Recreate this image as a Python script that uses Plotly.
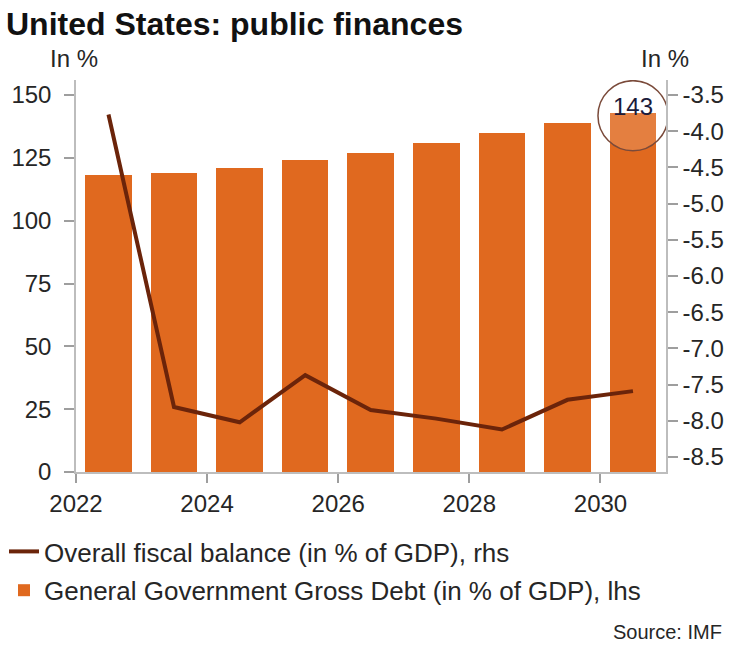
import plotly.graph_objects as go

years = [2022, 2023, 2024, 2025, 2026, 2027, 2028, 2029, 2030]
debt = [118, 119, 121, 124, 127, 131, 135, 139, 143]
balance = [-3.77, -7.81, -8.02, -7.37, -7.85, -7.97, -8.12, -7.71, -7.59]
x_ticks = [2022, 2024, 2026, 2028, 2030]
rhs_ticks = [-3.5, -4.0, -4.5, -5.0, -5.5, -6.0, -6.5, -7.0, -7.5, -8.0, -8.5]

x_dates = [f"{y}-07-01" for y in years]
YEAR_MS = 365.25 * 24 * 3600 * 1000

BAR = "#E0691F"
LINE = "#6B240A"
TXT = "#262626"
AX = "#BDBDBD"
FONT = "Liberation Sans, Arial, sans-serif"

W, H = 734, 646
ML, MR, MT, MB = 76, 68, 80, 174
PW, PH = W - ML - MR, H - MT - MB


def px_x(p):
    return (p - ML) / PW


def px_y(p):
    return (H - MB - p) / PH


fig = go.Figure()
fig.add_trace(go.Scatter(
    x=x_dates, y=balance, yaxis="y2", mode="lines",
    line=dict(color=LINE, width=4),
    name="Overall fiscal balance (in % of GDP), rhs",
    legendgroup="a",
))
fig.add_trace(go.Bar(
    x=x_dates, y=debt, yaxis="y", marker=dict(color=BAR, line=dict(width=0)),
    width=[0.71 * YEAR_MS] * len(years),
    name="General Government Gross Debt (in % of GDP), lhs",
    legendgroup="b",
))

fig.update_layout(
    width=W, height=H,
    margin=dict(l=ML, r=MR, t=MT, b=MB, autoexpand=False),
    paper_bgcolor="white", plot_bgcolor="white",
    font=dict(family=FONT, color=TXT, size=24),
    showlegend=True,
    legend=dict(
        orientation="v",
        x=px_x(4), y=px_y(528), xanchor="left", yanchor="top",
        font=dict(size=26, color=TXT), tracegroupgap=2,
        bgcolor="rgba(0,0,0,0)",
    ),
    title=dict(
        text="<b>United States: public finances</b>",
        xref="container", yref="container",
        x=6 / W, y=1 - 24 / H, xanchor="left", yanchor="middle",
        font=dict(size=32, color="#111111", family=FONT),
    ),
    xaxis=dict(
        type="date",
        range=["2022-01-01", "2031-01-01"],
        tickvals=[f"{y}-01-01" for y in x_ticks],
        ticktext=[str(y) for y in x_ticks],
        ticks="outside", ticklen=9, tickcolor="#9E9E9E", tickwidth=1.5,
        showline=True, linecolor=AX, linewidth=1.5,
        showgrid=False, zeroline=False,
        tickfont=dict(size=24, color=TXT),
    ),
    yaxis=dict(
        range=[0, 156], dtick=25, tick0=0,
        ticks="outside", ticklen=10, tickcolor="#9E9E9E", tickwidth=1.5,
        showline=True, linecolor=AX, linewidth=1.5,
        showgrid=False, zeroline=False,
        tickfont=dict(size=24, color=TXT),
        ticklabelstandoff=8,
    ),
    yaxis2=dict(
        overlaying="y", side="right",
        range=[-8.707, -3.293],
        tickvals=rhs_ticks, ticktext=[f"{v:.1f}" for v in rhs_ticks],
        ticks="outside", ticklen=10, tickcolor="#9E9E9E", tickwidth=1.5,
        showline=True, linecolor=AX, linewidth=1.5,
        showgrid=False, zeroline=False,
        tickfont=dict(size=24, color=TXT),
    ),
    bargap=0,
)

# circle highlight around the last debt value
fig.add_shape(
    type="circle", xref="x", yref="y",
    xsizemode="pixel", ysizemode="pixel",
    xanchor=x_dates[-1], yanchor=debt[-1],
    x0=-35, x1=35, y0=-38, y1=32,
    line=dict(color="#7A4A3A", width=1.5),
    fillcolor="rgba(255,255,255,0.15)",
    layer="above",
)
fig.add_annotation(
    x=x_dates[-1], y=debt[-1], xref="x", yref="y",
    text=str(debt[-1]), showarrow=False,
    yshift=6, font=dict(size=24, color="#1B1B3A"),
)

fig.add_annotation(text="In %", xref="paper", yref="paper",
                   x=px_x(74), y=px_y(58), xanchor="center", yanchor="middle",
                   showarrow=False, font=dict(size=24, color=TXT))
fig.add_annotation(text="In %", xref="paper", yref="paper",
                   x=px_x(665), y=px_y(58), xanchor="center", yanchor="middle",
                   showarrow=False, font=dict(size=24, color=TXT))
fig.add_annotation(text="Source: IMF", xref="paper", yref="paper",
                   x=px_x(724), y=px_y(632), xanchor="right", yanchor="middle",
                   showarrow=False, font=dict(size=20, color=TXT))

fig.write_html("out.html")
